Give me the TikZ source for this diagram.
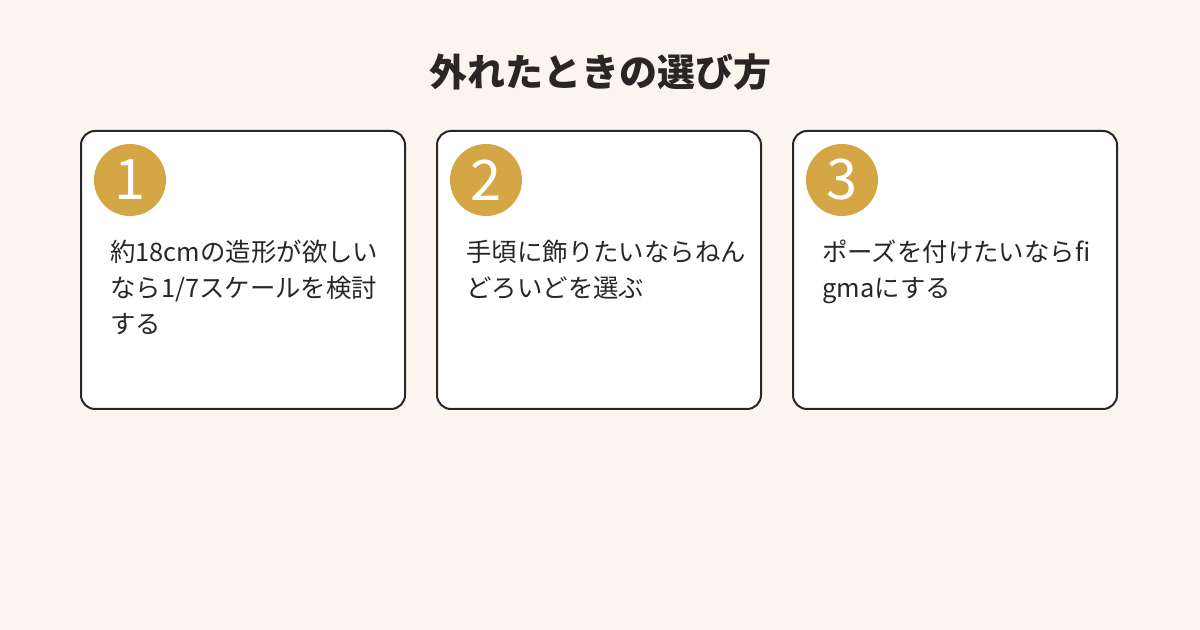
\documentclass[tikz,border=0pt]{standalone}
\usepackage{fontspec}
\setmainfont{Noto Sans CJK JP}
\usetikzlibrary{positioning}
\definecolor{bgcream}{HTML}{FAF6EF}
\definecolor{goldnum}{HTML}{D4A645}
\definecolor{inkdark}{HTML}{2A2626}
\begin{document}
\begin{tikzpicture}[
            x=0.5pt, y=-0.5pt,
            card/.style = {draw=inkdark, line width=1pt, fill=white, rounded corners=7pt},
            badge/.style = {circle, fill=goldnum, minimum size=36pt, inner sep=0pt, text=white, font=\fontsize{28}{28}\selectfont},
            body/.style = {anchor=north west, align=left, inner sep=0pt, text=inkdark, font=\fontsize{12.7}{18}\selectfont}
        ]
        \fill[bgcream] (0,0) rectangle (1200,630);
        \useasboundingbox (0,0) rectangle (1200,630);

        \node[font=\fontsize{19}{19}\selectfont\bfseries, text=inkdark] (title) at (600,72) {外れたときの選び方};

        \foreach \k/\xl/\txt in {1/81/{約18cmの造形が欲しい\\なら1/7スケールを検討\\する},
                                 2/437/{手頃に飾りたいならねん\\どろいどを選ぶ},
                                 3/793/{ポーズを付けたいならfi\\gmaにする}} {
            \draw[card] (\xl,131) rectangle ++(324,278);
            \node[badge] (num\k) at (\xl+49,180) {\k};
            \node[body] (text\k) at (\xl+29,240) {\txt};
        }
\end{tikzpicture}
\end{document}
